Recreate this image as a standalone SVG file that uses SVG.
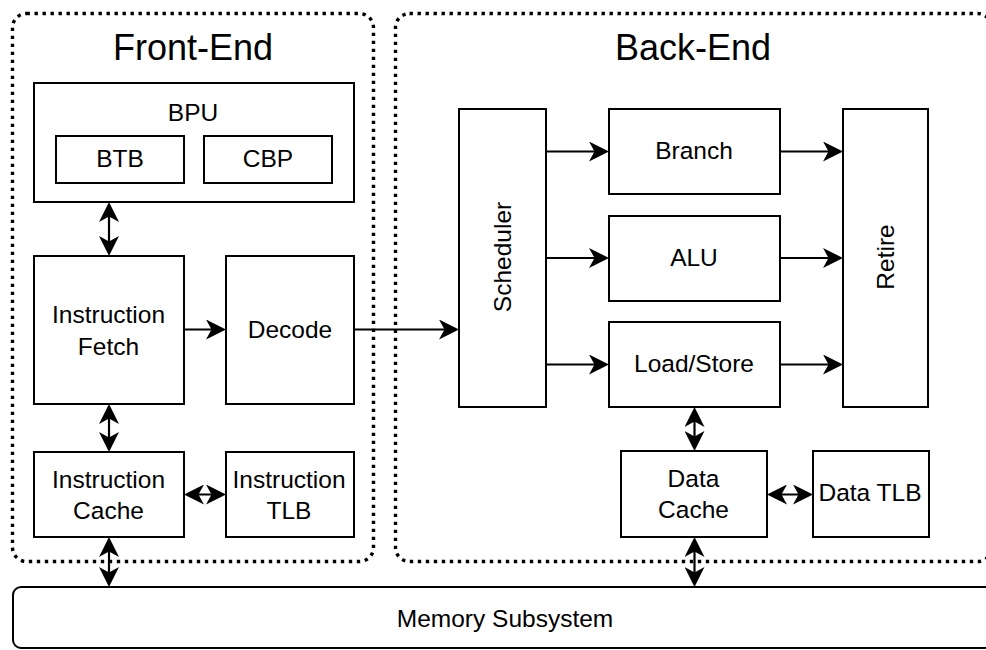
<svg xmlns="http://www.w3.org/2000/svg" width="986" height="650" viewBox="0 0 986 650">
<style>
.box{fill:#fff;stroke:#000;stroke-width:2}
.cont{fill:none;stroke:#000;stroke-width:3.4;stroke-dasharray:3.4 4.6}
.t{font-family:"Liberation Sans",Arial,sans-serif;font-size:24.5px;fill:#000;text-anchor:middle}
.title{font-family:"Liberation Sans",Arial,sans-serif;font-size:36px;fill:#000;text-anchor:middle}
.c{fill:none;stroke:#000;stroke-width:2.2}
</style>
<defs>
<marker id="ah" viewBox="0 0 20 20" refX="16" refY="10" markerWidth="20" markerHeight="20" markerUnits="userSpaceOnUse" orient="auto-start-reverse">
<path d="M0,0 L20,10 L0,20 L5.5,10 Z" fill="#000"/>
</marker>
</defs>
<rect width="986" height="650" fill="#fff"/>
<g id="frontend">
<rect class="cont" x="12.5" y="13.5" width="361" height="548" rx="14"/>
<text class="title" x="193" y="59.5">Front-End</text>
</g>
<g id="backend">
<rect class="cont" x="395.5" y="13.5" width="596" height="548" rx="14"/>
<text class="title" x="693" y="59.5">Back-End</text>
</g>
<g id="memory">
<rect class="box" x="13" y="587" width="985" height="61" rx="8"/>
<text class="t" x="505" y="627">Memory Subsystem</text>
</g>
<g id="bpu">
<rect class="box" x="34" y="83" width="320" height="119"/>
<text class="t" x="193" y="121">BPU</text>
</g>
<g id="btb">
<rect class="box" x="56" y="136" width="128" height="47"/>
<text class="t" x="120" y="167">BTB</text>
</g>
<g id="cbp">
<rect class="box" x="204" y="136" width="128" height="47"/>
<text class="t" x="268" y="167">CBP</text>
</g>
<g id="ifetch">
<rect class="box" x="34" y="256" width="150" height="148"/>
<text class="t" x="108.5" y="323">Instruction</text>
<text class="t" x="108.5" y="354.5">Fetch</text>
</g>
<g id="decode">
<rect class="box" x="226" y="256" width="128" height="148"/>
<text class="t" x="290" y="337.5">Decode</text>
</g>
<g id="icache">
<rect class="box" x="34" y="452" width="150" height="85"/>
<text class="t" x="108.5" y="487.5">Instruction</text>
<text class="t" x="108.5" y="518.5">Cache</text>
</g>
<g id="itlb">
<rect class="box" x="226" y="452" width="128" height="85"/>
<text class="t" x="289" y="487.5">Instruction</text>
<text class="t" x="289" y="518.5">TLB</text>
</g>
<g id="scheduler">
<rect class="box" x="459" y="109" width="87" height="298"/>
<text class="t" transform="translate(510.5,257) rotate(-90)">Scheduler</text>
</g>
<g id="branch">
<rect class="box" x="609" y="109" width="171" height="85"/>
<text class="t" x="694" y="159">Branch</text>
</g>
<g id="alu">
<rect class="box" x="609" y="216" width="171" height="85"/>
<text class="t" x="694" y="266">ALU</text>
</g>
<g id="loadstore">
<rect class="box" x="609" y="322" width="171" height="85"/>
<text class="t" x="694" y="372">Load/Store</text>
</g>
<g id="retire">
<rect class="box" x="843" y="109" width="85" height="298"/>
<text class="t" transform="translate(893.5,257) rotate(-90)">Retire</text>
</g>
<g id="dcache">
<rect class="box" x="621" y="451" width="146" height="86"/>
<text class="t" x="693.5" y="487">Data</text>
<text class="t" x="693.5" y="518">Cache</text>
</g>
<g id="dtlb">
<rect class="box" x="813" y="451" width="116" height="86"/>
<text class="t" x="870" y="501">Data TLB</text>
</g>
<g id="connectors">
<line class="c" x1="109" y1="206" x2="109" y2="252" marker-start="url(#ah)" marker-end="url(#ah)"/>
<line class="c" x1="184" y1="329.5" x2="222" y2="329.5" marker-end="url(#ah)"/>
<line class="c" x1="354" y1="329.5" x2="455" y2="329.5" marker-end="url(#ah)"/>
<line class="c" x1="109" y1="408" x2="109" y2="448" marker-start="url(#ah)" marker-end="url(#ah)"/>
<line class="c" x1="188" y1="494.5" x2="222" y2="494.5" marker-start="url(#ah)" marker-end="url(#ah)"/>
<line class="c" x1="109" y1="541" x2="109" y2="583" marker-start="url(#ah)" marker-end="url(#ah)"/>
<line class="c" x1="546" y1="151.5" x2="605" y2="151.5" marker-end="url(#ah)"/>
<line class="c" x1="546" y1="258" x2="605" y2="258" marker-end="url(#ah)"/>
<line class="c" x1="546" y1="364.5" x2="605" y2="364.5" marker-end="url(#ah)"/>
<line class="c" x1="780" y1="151.5" x2="839" y2="151.5" marker-end="url(#ah)"/>
<line class="c" x1="780" y1="258" x2="839" y2="258" marker-end="url(#ah)"/>
<line class="c" x1="780" y1="364.5" x2="839" y2="364.5" marker-end="url(#ah)"/>
<line class="c" x1="694.5" y1="411" x2="694.5" y2="447" marker-start="url(#ah)" marker-end="url(#ah)"/>
<line class="c" x1="694.5" y1="541" x2="694.5" y2="583" marker-start="url(#ah)" marker-end="url(#ah)"/>
<line class="c" x1="771" y1="494.5" x2="809" y2="494.5" marker-start="url(#ah)" marker-end="url(#ah)"/>
</g>
</svg>
